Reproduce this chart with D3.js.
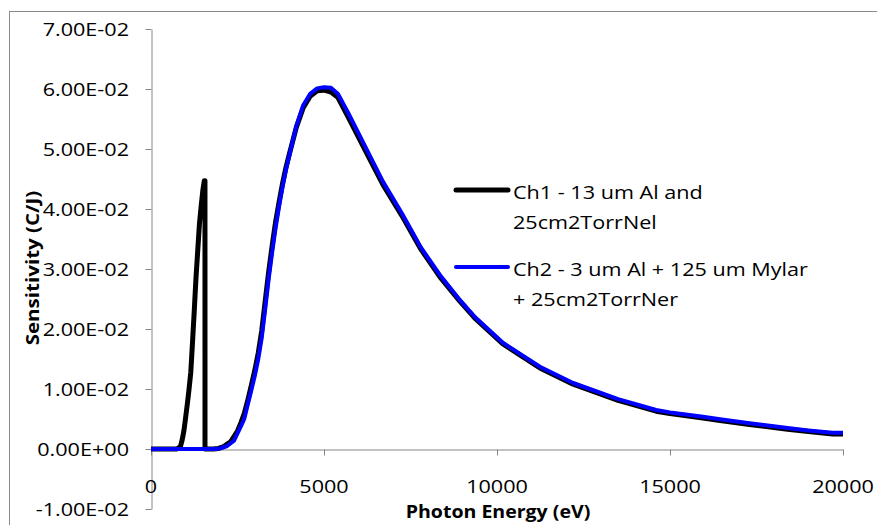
<!DOCTYPE html>
<html>
<head>
	<title></title>
	<style>
		body { margin: 0; background: #fff; }
		text { font-family: "Open Sans", sans-serif; }
	</style>
</head>

<body>
	<div class="container"></div>

	<script src="https://d3js.org/d3.v7.min.js"></script>
	<script type="text/javascript">

	// data
	var ch1Energy = [0,500,750,850,900,950,1000,1050,1100,1150,1200,1250,1300,1350,1400,1450,1500,1540,1560,1561,1800,1950,2100,2300,2500,2600,2700,2800,2900,3000,3100,3200,3300,3400,3500,3600,3700,3800,3900,4000,4200,4400,4600,4800,5000,5200,5400,5700,6200,6700,7250,7800,8350,8930,9360,10170,11240,12200,13500,14600,15000,15900,16500,17300,18400,19000,19700,20000];
	var ch1Sens = [0,0,0,0.0004,0.0015,0.0030,0.0052,0.0075,0.0100,0.0128,0.0178,0.0230,0.0285,0.0330,0.0375,0.0405,0.0432,0.0447,0.0447,0,0,0.0001,0.0004,0.0012,0.0030,0.0044,0.0060,0.0082,0.0106,0.0131,0.0160,0.0197,0.0246,0.0295,0.0338,0.0378,0.0411,0.0442,0.0469,0.0492,0.0536,0.0569,0.0588,0.0597,0.0598,0.0595,0.0586,0.0553,0.0497,0.0441,0.0389,0.0333,0.0287,0.0246,0.0218,0.0175,0.0135,0.0108,0.0081,0.0063,0.0059,0.0052,0.0047,0.0041,0.0033,0.0029,0.0025,0.0025];

	var ch2Energy = [0,500,1000,1500,1800,2000,2200,2400,2600,2700,2800,2900,3000,3100,3200,3300,3400,3500,3600,3700,3800,3900,4000,4200,4400,4600,4800,5000,5200,5400,5700,6200,6700,7250,7800,8350,8930,9360,10170,11240,12200,13500,14600,15000,15900,16500,17300,18400,19000,19700,20000];
	var ch2Sens = [0,0,0,0,0,0.0001,0.0005,0.0014,0.0038,0.0051,0.0075,0.0098,0.0122,0.0150,0.0185,0.0233,0.0283,0.0327,0.0368,0.0404,0.0436,0.0465,0.0490,0.0538,0.0573,0.0592,0.0601,0.0603,0.0602,0.0592,0.0560,0.0503,0.0446,0.0393,0.0336,0.0290,0.0248,0.0220,0.0177,0.0137,0.0110,0.0083,0.0065,0.0061,0.0054,0.0049,0.0043,0.0035,0.0031,0.0027,0.0027];

	var xTicks = [0, 5000, 10000, 15000, 20000];
	var xTickLabels = ["0", "5000", "10000", "15000", "20000"];
	var yTicks = [-0.01, 0, 0.01, 0.02, 0.03, 0.04, 0.05, 0.06, 0.07];
	var yTickLabels = ["-1.00E-02", "0.00E+00", "1.00E-02", "2.00E-02", "3.00E-02", "4.00E-02", "5.00E-02", "6.00E-02", "7.00E-02"];

	var seriesNames = [["Ch1 - 13 um Al and", "25cm2TorrNel"], ["Ch2 - 3 um Al + 125 um Mylar", "+ 25cm2TorrNer"]];
	var seriesColors = ["#000000", "#0000ff"];

	var stretch = 1.2; // text in the picture is a bit wide
	var axisColor = "#868686";

	const svg = d3.select(".container").append("svg").attr("width", 877).attr("height", 525);

	svg.append("rect")
		.attr("x", 9.5).attr("y", 11.5)
		.attr("width", 900).attr("height", 600)
		.attr("fill", "#fff")
		.attr("stroke", "#898989");

	var x = d3.scaleLinear().domain([0, 20000]).range([151, 843]);
	var y = d3.scaleLinear().domain([-0.01, 0.07]).range([509, 29]);

	// axes
	var yAxis = svg.append("g")
		.attr("transform", "translate(151.5,0)")
		.call(d3.axisLeft(y).tickValues(yTicks).tickSize(6).tickSizeOuter(0).tickFormat(""));
	var xAxis = svg.append("g")
		.attr("transform", "translate(0," + (Math.round(y(0)) + 0.5) + ")")
		.call(d3.axisBottom(x).tickValues(xTicks).tickSize(6).tickSizeOuter(0).tickFormat(""));
	svg.selectAll(".domain, .tick line").attr("stroke", axisColor);

	// tick labels
	svg.selectAll(".ylab").data(yTicks).enter().append("text")
		.attr("class", "ylab")
		.attr("transform", function(d){ return "translate(129," + (y(d) + 6.5) + ") scale(" + stretch + ",1)"; })
		.attr("text-anchor", "end")
		.style("font-size", "18px")
		.text(function(d, i){ return yTickLabels[i]; });

	svg.selectAll(".xlab").data(xTicks).enter().append("text")
		.attr("class", "xlab")
		.attr("transform", function(d){ return "translate(" + x(d) + ",493) scale(" + stretch + ",1)"; })
		.attr("text-anchor", "middle")
		.style("font-size", "18px")
		.text(function(d, i){ return xTickLabels[i]; });

	// axis titles
	svg.append("text")
		.attr("transform", "translate(498,518) scale(1.15,1)")
		.attr("text-anchor", "middle")
		.style("font-size", "17px")
		.style("font-weight", "bold")
		.text("Photon Energy (eV)");

	svg.append("text")
		.attr("transform", "translate(39,268) rotate(-90) scale(1.14,1)")
		.attr("text-anchor", "middle")
		.style("font-size", "18px")
		.style("font-weight", "bold")
		.text("Sensitivity (C/J)");

	// curves
	var line = d3.line()
		.x(function(d){ return x(d[0]); })
		.y(function(d){ return y(d[1]); });

	var ch1 = ch1Energy.map(function(e, i){ return [e, ch1Sens[i]]; });
	var ch2 = ch2Energy.map(function(e, i){ return [e, ch2Sens[i]]; });

	svg.append("path").datum(ch1)
		.attr("d", line)
		.attr("fill", "none")
		.attr("stroke", seriesColors[0])
		.attr("stroke-width", 5)
		.attr("stroke-linejoin", "round");

	svg.append("path").datum(ch2)
		.attr("d", line)
		.attr("fill", "none")
		.attr("stroke", seriesColors[1])
		.attr("stroke-width", 4)
		.attr("stroke-linejoin", "round");

	// legend
	var legendY = [190, 267];
	for (var j = 0; j < 2; j++){
		svg.append("line")
			.attr("x1", 456).attr("x2", 508)
			.attr("y1", legendY[j]).attr("y2", legendY[j])
			.attr("stroke", seriesColors[j])
			.attr("stroke-width", j == 0 ? 5 : 4)
			.attr("stroke-linecap", "round");
		for (var k = 0; k < 2; k++){
			svg.append("text")
				.attr("transform", "translate(513," + (legendY[j] + 9 + k*30) + ") scale(" + stretch + ",1)")
				.style("font-size", "18px")
				.text(seriesNames[j][k]);
		}
	}

	</script>

</body>
</html>
